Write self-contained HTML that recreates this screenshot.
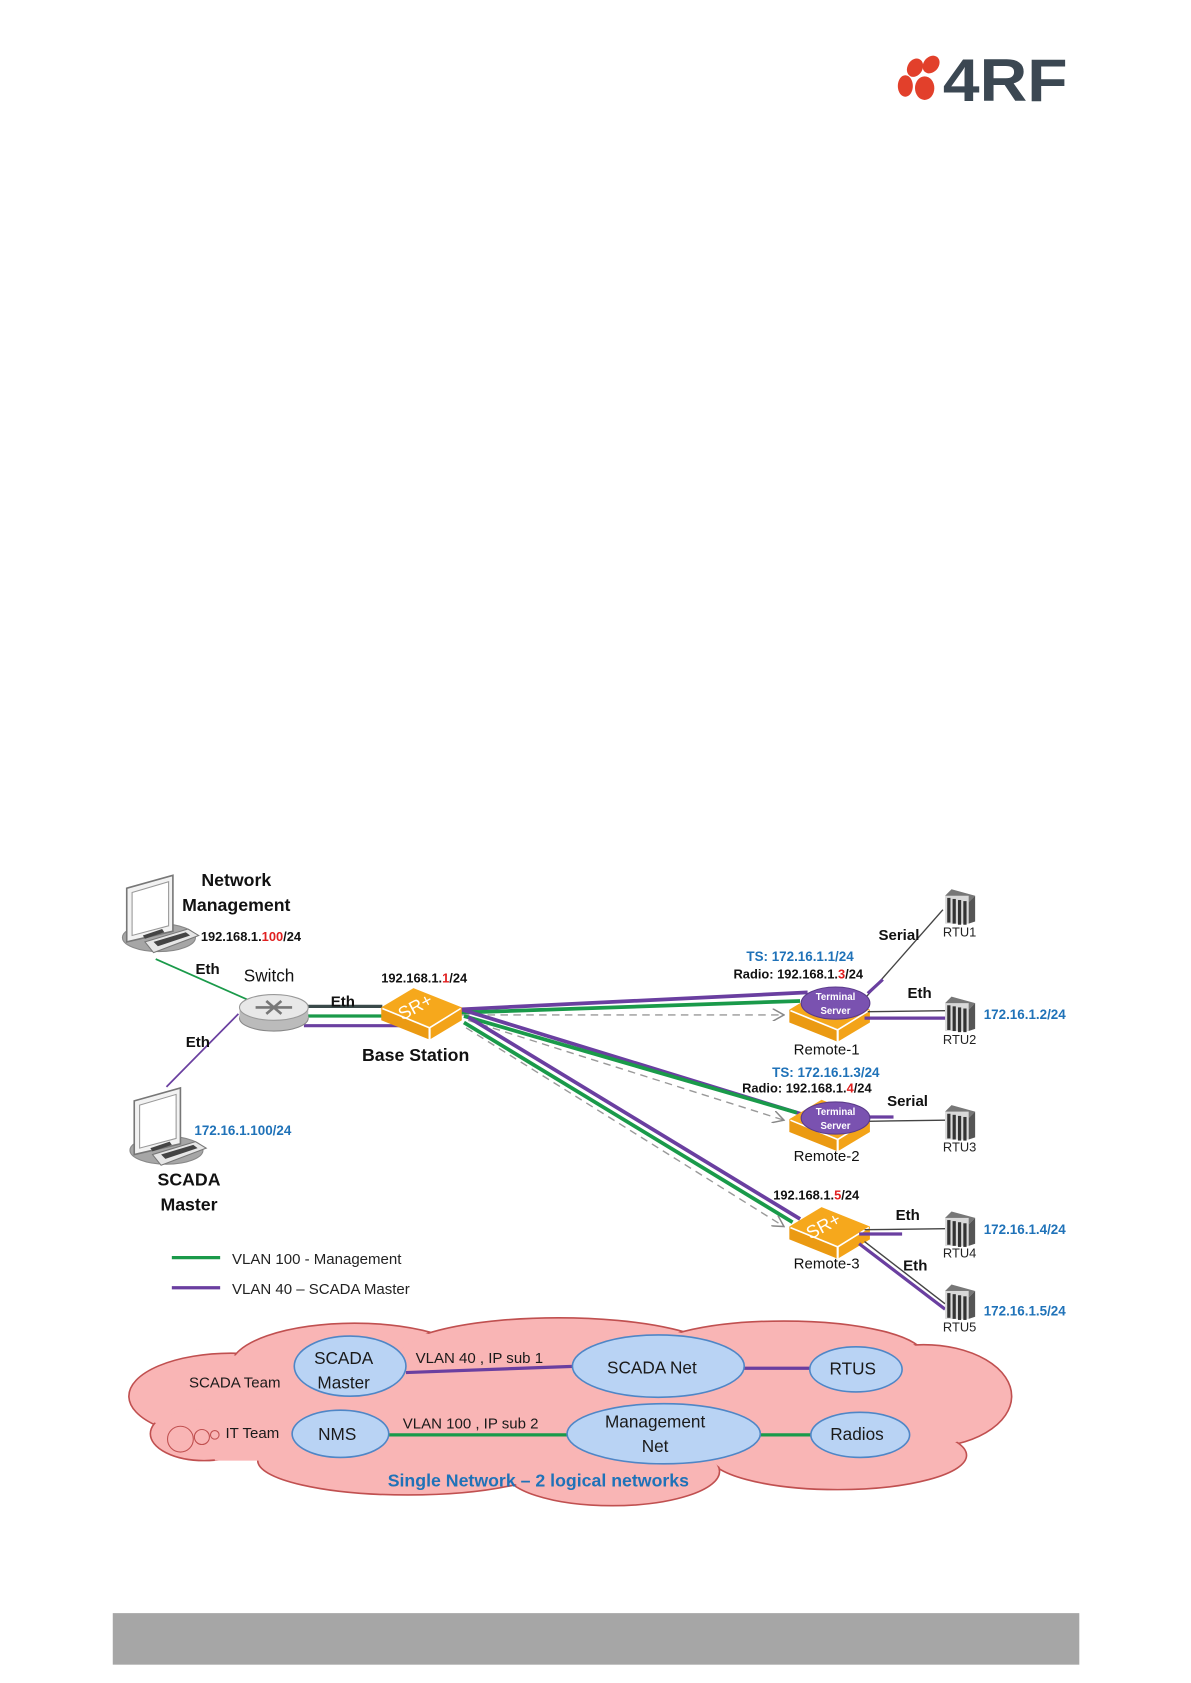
<!DOCTYPE html>
<html><head><meta charset="utf-8"><style>
html,body{margin:0;padding:0;background:#fff;}
svg{display:block;}
text{font-family:"Liberation Sans",sans-serif;}
</style></head><body>
<svg width="1191" height="1683" viewBox="0 0 1109 1567" xmlns="http://www.w3.org/2000/svg">
<defs>
<g id="box">
<polygon points="0,18 30,0 75,18 45,36" fill="#f6a81c"/>
<polygon points="0,18 45,36 45,48 0,30" fill="#eb9a12"/>
<polygon points="45,36 75,18 75,30 45,48" fill="#f3a318"/>
<line x1="45" y1="37" x2="45" y2="48" stroke="#fff" stroke-width="2"/>
<line x1="1" y1="19" x2="45" y2="37" stroke="#fff" stroke-width="1.5"/>
<line x1="45" y1="37" x2="74" y2="19" stroke="#fff" stroke-width="1.5"/>
</g>
<g id="rtu">
<polygon points="0,6 6,0 28,6 22,12" fill="#777"/>
<rect x="0" y="6" width="22" height="26" fill="#d9d9d9"/>
<polygon points="22,12 28,6 28,30 22,32" fill="#555"/>
<rect x="2" y="8" width="3" height="23" fill="#333"/>
<rect x="7" y="9" width="3" height="23" fill="#333"/>
<rect x="12" y="10" width="3" height="23" fill="#333"/>
<rect x="17" y="11" width="3" height="22" fill="#333"/>
</g>
<g id="laptop">
<ellipse cx="35" cy="58" rx="34" ry="13" fill="#a6a6a6" stroke="#888"/>
<polygon points="5,12 48,0 48,52 5,62" fill="#f2f2f2" stroke="#777" stroke-width="1.5"/>
<polygon points="10,16 44,6 44,47 10,56" fill="#fff" stroke="#999"/>
<polygon points="22,62 62,50 72,56 30,72" fill="#e6e6e6" stroke="#777"/>
<polygon points="30,62 60,53 64,56 34,66" fill="#444"/>
<polygon points="20,56 38,50 40,53 22,59" fill="#444"/>
</g>
<marker id="ar" viewBox="0 0 10 10" refX="9" refY="5" markerWidth="9" markerHeight="9" orient="auto"><path d="M0,0 L9,5 L0,10" fill="none" stroke="#888" stroke-width="1.2"/></marker>
</defs>

<!-- Logo -->
<ellipse cx="852" cy="63" rx="7" ry="9" fill="#e2402b" transform="rotate(30 852 63)"/>
<ellipse cx="867" cy="60" rx="7" ry="9" fill="#e2402b" transform="rotate(40 867 60)"/>
<ellipse cx="843" cy="80" rx="7" ry="10" fill="#e2402b"/>
<ellipse cx="861" cy="82" rx="9" ry="11" fill="#e2402b"/>
<text x="878" y="94" font-size="56" font-weight="bold" fill="#3b4752" textLength="116" lengthAdjust="spacingAndGlyphs">4RF</text>

<!-- Left links -->
<line x1="145" y1="893" x2="240" y2="935" stroke="#1a9a4a" stroke-width="1.6"/>
<line x1="155" y1="1012" x2="222" y2="944" stroke="#6a3fa0" stroke-width="1.6"/>
<line x1="285" y1="937" x2="356" y2="937" stroke="#3a4a4a" stroke-width="3"/>
<line x1="283" y1="946" x2="362" y2="946" stroke="#1a9a4a" stroke-width="3"/>
<line x1="283" y1="955" x2="372" y2="955" stroke="#6a3fa0" stroke-width="3"/>

<!-- Switch -->
<ellipse cx="255" cy="948" rx="32" ry="12" fill="#bbb" stroke="#888"/>
<rect x="223" y="938" width="64" height="10" fill="#bbb"/>
<ellipse cx="255" cy="938" rx="32" ry="12" fill="#e8e8e8" stroke="#999"/>
<path d="M238,938 L272,938 M248,932 L262,944 M262,932 L248,944" stroke="#777" stroke-width="2.5"/>

<!-- base to remotes -->
<line x1="425" y1="940" x2="752" y2="924" stroke="#6a3fa0" stroke-width="3.5"/>
<line x1="425" y1="943" x2="745" y2="932" stroke="#1a9a4a" stroke-width="3.5"/>
<line x1="430" y1="945" x2="730" y2="945" stroke="#999" stroke-width="1.3" stroke-dasharray="7,5" marker-end="url(#ar)"/>
<line x1="430" y1="940" x2="755" y2="1040" stroke="#6a3fa0" stroke-width="3.5"/>
<line x1="432" y1="946" x2="742" y2="1036" stroke="#1a9a4a" stroke-width="3.5"/>
<line x1="436" y1="950" x2="730" y2="1043" stroke="#999" stroke-width="1.3" stroke-dasharray="7,5" marker-end="url(#ar)"/>
<line x1="436" y1="947" x2="745" y2="1135" stroke="#6a3fa0" stroke-width="3.5"/>
<line x1="432" y1="952" x2="738" y2="1138" stroke="#1a9a4a" stroke-width="3.5"/>
<line x1="434" y1="957" x2="730" y2="1142" stroke="#999" stroke-width="1.3" stroke-dasharray="7,5" marker-end="url(#ar)"/>

<!-- Base Station -->
<use href="#box" x="355" y="920"/>
<text x="370" y="944" font-size="17" fill="#fff" transform="rotate(-28 385 938)">SR+</text>

<!-- Remote boxes -->
<use href="#box" x="735" y="922"/>
<use href="#box" x="735" y="1024"/>
<use href="#box" x="735" y="1124"/>
<text x="750" y="1148" font-size="17" fill="#fff" transform="rotate(-28 765 1142)">SR+</text>

<!-- right links -->
<line x1="805" y1="930" x2="878" y2="847" stroke="#444" stroke-width="1.3"/>
<line x1="808" y1="925" x2="822" y2="912" stroke="#6a3fa0" stroke-width="3"/>
<line x1="808" y1="942" x2="880" y2="941" stroke="#444" stroke-width="1.3"/>
<line x1="805" y1="948" x2="890" y2="948" stroke="#6a3fa0" stroke-width="3"/>
<line x1="808" y1="1044" x2="880" y2="1043" stroke="#444" stroke-width="1.3"/>
<line x1="805" y1="1040" x2="832" y2="1040" stroke="#6a3fa0" stroke-width="3"/>
<line x1="805" y1="1145" x2="880" y2="1144" stroke="#444" stroke-width="1.3"/>
<line x1="800" y1="1149" x2="840" y2="1149" stroke="#6a3fa0" stroke-width="3"/>
<line x1="805" y1="1156" x2="880" y2="1214" stroke="#444" stroke-width="1.3"/>
<line x1="800" y1="1158" x2="880" y2="1219" stroke="#6a3fa0" stroke-width="3"/>

<!-- Terminal servers -->
<ellipse cx="778" cy="934" rx="32" ry="15" fill="#7a52b0" stroke="#5a3a8a"/>
<text x="778" y="931" font-size="9" fill="#fff" text-anchor="middle" font-weight="bold">Terminal</text>
<text x="778" y="944" font-size="9" fill="#fff" text-anchor="middle" font-weight="bold">Server</text>
<ellipse cx="778" cy="1041" rx="32" ry="15" fill="#7a52b0" stroke="#5a3a8a"/>
<text x="778" y="1038" font-size="9" fill="#fff" text-anchor="middle" font-weight="bold">Terminal</text>
<text x="778" y="1051" font-size="9" fill="#fff" text-anchor="middle" font-weight="bold">Server</text>

<!-- RTUs -->
<use href="#rtu" x="880" y="828"/>
<use href="#rtu" x="880" y="928"/>
<use href="#rtu" x="880" y="1029"/>
<use href="#rtu" x="880" y="1128"/>
<use href="#rtu" x="880" y="1196"/>
<g font-size="12" fill="#222">
<text x="878" y="872">RTU1</text><text x="878" y="972">RTU2</text><text x="878" y="1072">RTU3</text><text x="878" y="1171">RTU4</text><text x="878" y="1240">RTU5</text>
</g>
<g font-size="12.5" font-weight="bold" fill="#1f72b8">
<text x="916" y="949">172.16.1.2/24</text>
<text x="916" y="1149">172.16.1.4/24</text>
<text x="916" y="1225">172.16.1.5/24</text>
<text x="695" y="895">TS: 172.16.1.1/24</text>
<text x="719" y="1003">TS: 172.16.1.3/24</text>
<text x="181" y="1057">172.16.1.100/24</text>
</g>
<g font-size="12" font-weight="bold" fill="#111">
<text x="683" y="911">Radio: 192.168.1.<tspan fill="#e02020">3</tspan>/24</text>
<text x="691" y="1017">Radio: 192.168.1.<tspan fill="#e02020">4</tspan>/24</text>
<text x="720" y="1117">192.168.1.<tspan fill="#e02020">5</tspan>/24</text>
<text x="355" y="915">192.168.1.<tspan fill="#e02020">1</tspan>/24</text>
<text x="187" y="876">192.168.1.<tspan fill="#e02020">100</tspan>/24</text>
</g>
<g font-size="14" font-weight="bold" fill="#111">
<text x="818" y="875">Serial</text><text x="845" y="929">Eth</text>
<text x="826" y="1030">Serial</text><text x="834" y="1136">Eth</text><text x="841" y="1183">Eth</text>
<text x="182" y="907">Eth</text><text x="173" y="975">Eth</text><text x="308" y="937">Eth</text>
</g>
<g font-size="14" fill="#111">
<text x="739" y="982">Remote-1</text><text x="739" y="1081">Remote-2</text><text x="739" y="1181">Remote-3</text>
<text x="227" y="914" font-size="16">Switch</text>
</g>
<g font-size="16.5" font-weight="bold" fill="#111" text-anchor="middle">
<text x="220" y="825">Network</text><text x="220" y="848">Management</text>
<text x="176" y="1104">SCADA</text><text x="176" y="1127">Master</text>
<text x="387" y="988">Base Station</text>
</g>

<!-- laptops -->
<use href="#laptop" x="113" y="815"/>
<use href="#laptop" x="120" y="1013"/>

<!-- legend -->
<line x1="160" y1="1171" x2="205" y2="1171" stroke="#1a9a4a" stroke-width="3"/>
<line x1="160" y1="1199" x2="205" y2="1199" stroke="#6a3fa0" stroke-width="3"/>
<text x="216" y="1177" font-size="14" fill="#222">VLAN 100 - Management</text>
<text x="216" y="1205" font-size="14" fill="#222">VLAN 40 – SCADA Master</text>

<!-- big pink cloud -->
<g fill="#f9b5b5" stroke="#c05050" stroke-width="1.5">
<ellipse cx="215" cy="1300" rx="95" ry="40"/>
<ellipse cx="330" cy="1272" rx="115" ry="40"/>
<ellipse cx="520" cy="1262" rx="150" ry="35"/>
<ellipse cx="730" cy="1262" rx="130" ry="32"/>
<ellipse cx="860" cy="1300" rx="82" ry="48"/>
<ellipse cx="780" cy="1355" rx="120" ry="32"/>
<ellipse cx="570" cy="1370" rx="100" ry="32"/>
<ellipse cx="380" cy="1360" rx="140" ry="32"/>
<ellipse cx="190" cy="1335" rx="50" ry="25"/>
</g>
<g fill="#f9b5b5">
<ellipse cx="215" cy="1300" rx="93" ry="38"/>
<ellipse cx="330" cy="1272" rx="113" ry="38"/>
<ellipse cx="520" cy="1262" rx="148" ry="33"/>
<ellipse cx="730" cy="1262" rx="128" ry="30"/>
<ellipse cx="860" cy="1300" rx="80" ry="46"/>
<ellipse cx="780" cy="1355" rx="118" ry="30"/>
<ellipse cx="570" cy="1370" rx="98" ry="30"/>
<ellipse cx="380" cy="1360" rx="138" ry="30"/>
<ellipse cx="190" cy="1335" rx="48" ry="23"/>
<rect x="200" y="1270" width="660" height="90"/>
</g>
<circle cx="168" cy="1340" r="12" fill="none" stroke="#c05050"/>
<circle cx="188" cy="1338" r="7" fill="none" stroke="#c05050"/>
<circle cx="200" cy="1336" r="4" fill="none" stroke="#c05050"/>

<!-- inner lines -->
<line x1="378" y1="1278" x2="540" y2="1272" stroke="#6a3fa0" stroke-width="3"/>
<line x1="690" y1="1274" x2="758" y2="1274" stroke="#6a3fa0" stroke-width="3"/>
<line x1="360" y1="1336" x2="532" y2="1336" stroke="#1a9a4a" stroke-width="3"/>
<line x1="705" y1="1336" x2="758" y2="1336" stroke="#1a9a4a" stroke-width="3"/>

<!-- blue clouds -->
<g fill="#b9d3f4" stroke="#4f86c6" stroke-width="1.5">
<ellipse cx="326" cy="1272" rx="52" ry="28"/>
<ellipse cx="613" cy="1272" rx="80" ry="29"/>
<ellipse cx="797" cy="1275" rx="43" ry="21"/>
<ellipse cx="317" cy="1335" rx="45" ry="22"/>
<ellipse cx="618" cy="1335" rx="90" ry="28"/>
<ellipse cx="801" cy="1336" rx="46" ry="21"/>
</g>
<g fill="#1a1a1a" font-size="16" text-anchor="middle">
<text x="320" y="1270">SCADA</text><text x="320" y="1293">Master</text>
<text x="607" y="1279">SCADA Net</text>
<text x="794" y="1280">RTUS</text>
<text x="314" y="1341">NMS</text>
<text x="610" y="1329">Management</text><text x="610" y="1352">Net</text>
<text x="798" y="1341">Radios</text>
</g>
<g fill="#1a1a1a" font-size="14">
<text x="176" y="1292">SCADA Team</text>
<text x="210" y="1339">IT Team</text>
<text x="387" y="1269">VLAN 40 , IP sub 1</text>
<text x="375" y="1330">VLAN 100 , IP sub 2</text>
</g>
<text x="361" y="1384" font-size="16.5" font-weight="bold" fill="#1f72b8">Single Network – 2 logical networks</text>

<!-- footer bar -->
<rect x="105" y="1502" width="900" height="48" fill="#a6a6a6"/>
</svg>
</body></html>
